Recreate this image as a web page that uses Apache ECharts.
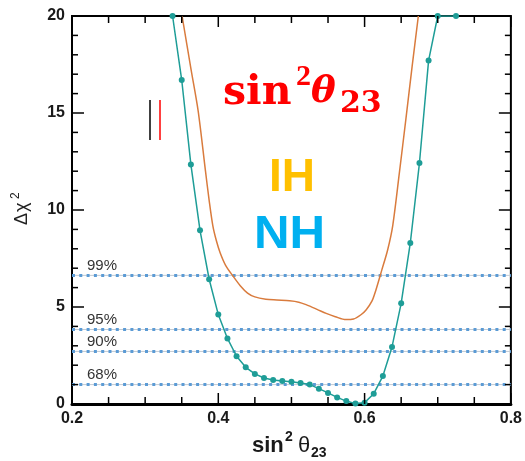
<!DOCTYPE html>
<html>
<head>
<meta charset="utf-8">
<script src="https://cdn.jsdelivr.net/npm/echarts@6/dist/echarts.min.js"></script>
<style>
  html, body { margin: 0; padding: 0; background: #fff; }
  #chart { width: 525px; height: 461px; }
</style>
</head>
<body>
<div id="chart"></div>
<script>
// Normal hierarchy: scan points of delta chi-square vs sin^2(theta23)
const nhX = [0.3375, 0.35, 0.3625, 0.375, 0.3875, 0.4, 0.4125, 0.425, 0.4375, 0.45,
             0.4625, 0.475, 0.4875, 0.5, 0.5125, 0.525, 0.5375, 0.55, 0.5625, 0.575,
             0.5875, 0.6, 0.6125, 0.625, 0.6375, 0.65, 0.6625, 0.675, 0.6875, 0.7, 0.725];
const nhY = [20, 16.7, 12.35, 8.95, 6.43, 4.61, 3.38, 2.46, 1.89, 1.55,
             1.34, 1.24, 1.19, 1.15, 1.08, 1.0, 0.79, 0.57, 0.34, 0.15,
             0.02, 0.07, 0.53, 1.44, 2.94, 5.19, 8.3, 12.42, 17.7, 20, 20];

// Inverted hierarchy curve
const ihX = [0.3505, 0.3625, 0.3725, 0.3825, 0.3875, 0.3925, 0.3975, 0.4025, 0.41, 0.42,
             0.43, 0.44, 0.45, 0.465, 0.48, 0.4975, 0.51, 0.52, 0.535, 0.5475,
             0.56, 0.5745, 0.585, 0.595, 0.602, 0.61, 0.6155, 0.6235, 0.6315, 0.6385,
             0.6475, 0.6565, 0.665, 0.6735];
const ihY = [20, 17.3, 15.1, 12.0, 10.5, 9.2, 8.4, 7.8, 7.15, 6.6,
             6.1, 5.72, 5.52, 5.4, 5.36, 5.32, 5.25, 5.12, 4.88, 4.67,
             4.5, 4.35, 4.38, 4.6, 4.85, 5.3, 5.88, 6.9, 7.94, 9.2,
             11.9, 14.7, 17.4, 20];

// Confidence-level thresholds
const clNames = ['99%', '95%', '90%', '68%'];
const clValues = [6.63, 3.84, 2.71, 1.0];

// Axis ranges and frame tick positions
const xRange = [0.2, 0.8];
const yRange = [0, 20];
const xMajorTicks = [0.2, 0.4, 0.6, 0.8];
const xMinorTicks = [0.25, 0.3, 0.35, 0.45, 0.5, 0.55, 0.65, 0.7, 0.75];
const yMajorTicks = [0, 5, 10, 15, 20];
const yMinorTicks = [1, 2, 3, 4, 6, 7, 8, 9, 11, 12, 13, 14, 16, 17, 18, 19];

const SANS = '"Liberation Sans", Arial, Helvetica, sans-serif';
const SERIF = '"DejaVu Serif", "Liberation Serif", serif';
const SERIF2 = '"Liberation Serif", "Times New Roman", serif';

// tick items: [value, onYAxis (0/1), major (0/1)]
const tickItems = []
  .concat(xMajorTicks.map(v => [v, 0, 1]))
  .concat(xMinorTicks.map(v => [v, 0, 0]))
  .concat(yMajorTicks.map(v => [v, 1, 1]))
  .concat(yMinorTicks.map(v => [v, 1, 0]));

function tickLine(x1, y1, x2, y2, color) {
  return { type: 'line', silent: true,
           shape: { x1: x1, y1: y1, x2: x2, y2: y2 },
           style: { stroke: color, lineWidth: 1.5 } };
}

function renderTick(params, api) {
  const v = api.value(0), onY = api.value(1) === 1, major = api.value(2) === 1;
  if (!onY) {
    const len = major ? 11 : 7;
    const a = api.coord([v, yRange[0]]), b = api.coord([v, yRange[1]]);
    return { type: 'group', children: [
      tickLine(a[0], a[1], a[0], a[1] - len, '#000'),
      tickLine(b[0], b[1], b[0], b[1] + len, '#000')
    ] };
  }
  const len = major ? 12 : 6;
  const a = api.coord([xRange[0], v]), b = api.coord([xRange[1], v]);
  return { type: 'group', children: [
    tickLine(a[0], a[1], a[0] + len, a[1], '#000'),
    tickLine(b[0], b[1], b[0] - len, b[1], '#000')
  ] };
}

function txt(x, y, text, font, fill, extra) {
  return Object.assign({
    type: 'text', x: x, y: y, silent: true,
    style: { text: text, font: font, fill: fill, align: 'left', verticalAlign: 'middle' }
  }, extra || {});
}

const textGraphics = [
  txt(223, 93, 'sin', 'bold 41px ' + SERIF, '#ff0000'),
  txt(296, 77, '2', 'bold 30px ' + SERIF2, '#ff0000'),
  txt(311, 92, 'θ', 'italic bold 37px ' + SERIF, '#ff0000'),
  txt(340, 104, '23', 'bold 30px ' + SERIF, '#ff0000'),
  txt(269, 178, 'IH', 'bold 46px ' + SANS, '#ffc000'),
  txt(254, 235, 'NH', 'bold 46px ' + SANS, '#00b0f0', { scaleX: 1.07 }),
  txt(252, 446, 'sin', 'bold 22px ' + SANS, '#1a1a1a'),
  txt(285, 437, '2', 'bold 14px ' + SANS, '#1a1a1a'),
  txt(298, 446, 'θ', '22px ' + SANS, '#1a1a1a'),
  txt(311, 453, '23', 'bold 14px ' + SANS, '#1a1a1a'),
  {
    type: 'group', x: 22.5, y: 206, rotation: Math.PI / 2, silent: true,
    children: [
      txt(-19, 0, 'Δ', '18px ' + SANS, '#222'),
      txt(-6, 0, 'χ', '18px ' + SANS, '#222'),
      txt(7, -7, '2', '12px ' + SANS, '#222')
    ]
  },
  { type: 'line', shape: { x1: 150, y1: 100, x2: 150, y2: 140 }, style: { stroke: '#000', lineWidth: 1.5 } },
  { type: 'line', shape: { x1: 160, y1: 100, x2: 160, y2: 140 }, style: { stroke: '#ff0000', lineWidth: 1.5 } }
];

const clUnderlay = clValues.map(v => ({
  type: 'line', z: 1, silent: true, symbol: 'none',
  lineStyle: { color: '#c3cbd3', width: 1 },
  data: [[xRange[0], v], [xRange[1], v]]
}));
const clDotted = clValues.map((v, i) => ({
  type: 'line', z: 1, silent: true, symbol: 'circle', symbolSize: 0,
  lineStyle: { color: '#5b9bd5', width: 3, type: [3, 4.3] },
  itemStyle: { color: '#5b9bd5' },
  data: [
    { value: [xRange[0], v],
      label: { show: true, formatter: clNames[i], position: [15, -17],
               fontFamily: SANS, fontSize: 15, color: '#333' } },
    [xRange[1], v]
  ]
}));

const chart = echarts.init(document.getElementById('chart'), null, { renderer: 'canvas' });

chart.setOption({
  animation: false,
  backgroundColor: '#fff',
  grid: { left: 72, right: 13, top: 16, bottom: 57, show: true, borderColor: '#000', borderWidth: 2 },
  xAxis: {
    type: 'value', min: xRange[0], max: xRange[1], interval: 0.2,
    axisLine: { show: true, onZero: false, lineStyle: { color: '#000', width: 3 } },
    axisTick: { show: false }, splitLine: { show: false },
    axisLabel: { show: true, margin: 7, fontFamily: SANS, fontWeight: 'bold', fontSize: 16, color: '#1a1a1a' }
  },
  yAxis: {
    type: 'value', min: yRange[0], max: yRange[1], interval: 5,
    axisLine: { show: true, onZero: false, lineStyle: { color: '#000', width: 2 } },
    axisTick: { show: false }, splitLine: { show: false },
    axisLabel: { show: true, margin: 7, fontFamily: SANS, fontWeight: 'bold', fontSize: 16, color: '#1a1a1a' }
  },
  series: clUnderlay.concat(clDotted).concat([
    {
      name: 'IH', type: 'line', z: 3, symbol: 'none', smooth: 0.3,
      lineStyle: { color: '#d97b3d', width: 1.5 },
      data: ihX.map((x, i) => [x, ihY[i]])
    },
    {
      name: 'NH', type: 'line', z: 4,
      symbol: 'circle', symbolSize: 6,
      lineStyle: { color: '#1e9d97', width: 1.5 },
      itemStyle: { color: '#1e9d97' },
      data: nhX.map((x, i) => [x, nhY[i]])
    },
    {
      type: 'custom', z: 5, silent: true, clip: false,
      encode: { x: 0 },
      renderItem: renderTick,
      data: tickItems
    }
  ]),
  graphic: textGraphics
});
</script>
</body>
</html>
